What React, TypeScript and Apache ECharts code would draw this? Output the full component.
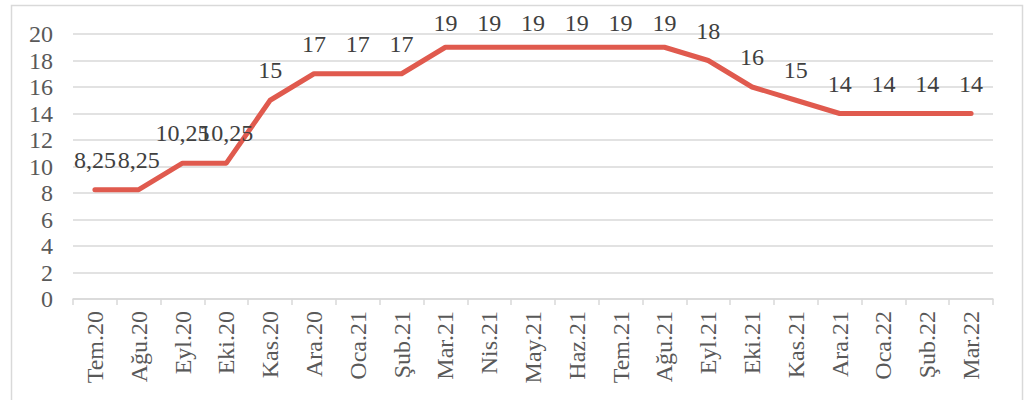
import React, { useEffect, useRef } from "react";
import * as echarts from "echarts";

const categories = [
  "Tem.20", "Ağu.20", "Eyl.20", "Eki.20", "Kas.20", "Ara.20", "Oca.21", "Şub.21",
  "Mar.21", "Nis.21", "May.21", "Haz.21", "Tem.21", "Ağu.21", "Eyl.21", "Eki.21",
  "Kas.21", "Ara.21", "Oca.22", "Şub.22", "Mar.22",
];
const rates = [8.25, 8.25, 10.25, 10.25, 15, 17, 17, 17, 19, 19, 19, 19, 19, 19, 18, 16, 15, 14, 14, 14, 14];
const yMin = 0;
const yMax = 20;
const yStep = 2;

const FONT = "Liberation Serif";

export default function App() {
  const ref = useRef<HTMLDivElement>(null);
  useEffect(() => {
    if (!ref.current) return;
    const chart = echarts.init(ref.current, null, { renderer: "svg" });
    // labels near the top of the plot are pushed down to stay inside the chart area
    const seriesData = rates.map((v) =>
      v >= 19 ? { value: v, label: { distance: 12 } } : v
    );
    chart.setOption({
      animation: false,
      backgroundColor: "#ffffff",
      textStyle: { fontFamily: FONT },
      graphic: [
        {
          type: "rect",
          shape: { x: 11.5, y: 5.5, width: 1011, height: 410 },
          style: { fill: "none", stroke: "#d9d9d9", lineWidth: 1.5 },
          silent: true,
        },
      ],
      grid: { left: 73, right: 40, top: 34, bottom: 101, outerBoundsMode: "none", containLabel: false },
      xAxis: {
        type: "category",
        data: categories,
        boundaryGap: true,
        axisLine: { show: true, lineStyle: { color: "#d9d9d9", width: 1.5 } },
        axisTick: { show: true, alignWithLabel: false, length: 6, lineStyle: { color: "#d9d9d9", width: 1.5 } },
        axisLabel: {
          rotate: 90,
          interval: 0,
          margin: 12,
          color: "#595959",
          fontSize: 24,
          fontFamily: FONT,
        },
        splitLine: { show: false },
      },
      yAxis: {
        type: "value",
        min: yMin,
        max: yMax,
        interval: yStep,
        axisLine: { show: false },
        axisTick: { show: false },
        axisLabel: { color: "#595959", fontSize: 24, margin: 20, fontFamily: FONT },
        splitLine: { show: true, lineStyle: { color: "#d9d9d9", width: 1.5 } },
      },
      series: [
        {
          type: "line",
          data: seriesData,
          symbol: "circle",
          symbolSize: 0,
          showSymbol: true,
          lineStyle: { color: "#e05a4e", width: 5, cap: "round", join: "round" },
          itemStyle: { color: "#e05a4e" },
          labelLayout: { hideOverlap: false },
          label: {
            show: true,
            position: "top",
            distance: 18,
            color: "#404040",
            fontSize: 24,
            fontFamily: FONT,
            fontWeight: "normal",
            formatter: (p: any) => String(p.value).replace(".", ","),
          },
        },
      ],
    });
    return () => chart.dispose();
  }, []);
  return (
    <div
      ref={ref}
      style={{ position: "absolute", left: 0, top: 0, width: 1033, height: 400 }}
    />
  );
}
